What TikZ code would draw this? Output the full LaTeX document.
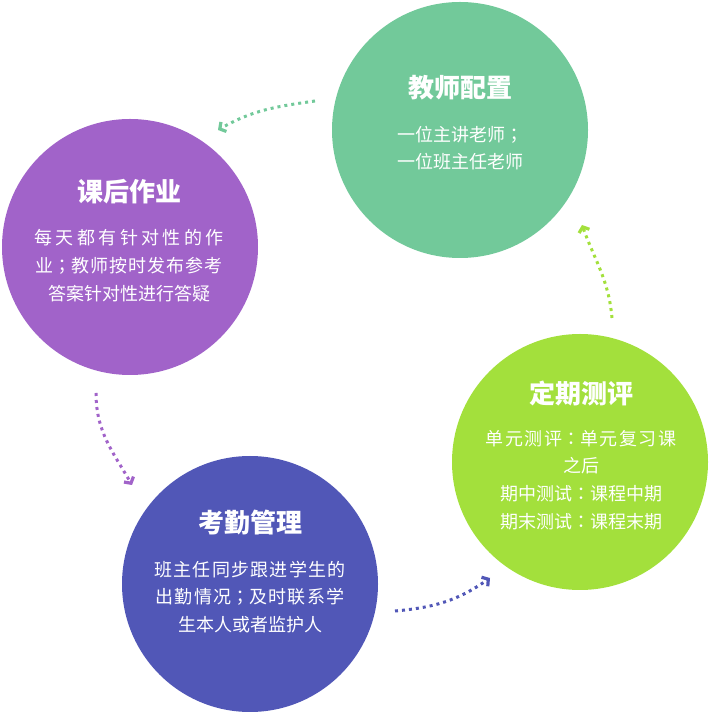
\documentclass[tikz,border=0pt]{standalone}
\usepackage{fontspec}
\setmainfont{Noto Sans CJK SC}
\newfontfamily\punct{Noto Sans CJK TC}
\usetikzlibrary{positioning}
\usetikzlibrary{arrows.meta}
\definecolor{peizhicol}{HTML}{72C99A}
\definecolor{zuoyecol}{HTML}{A163C9}
\definecolor{kaoqincol}{HTML}{5157B7}
\definecolor{cepingcol}{HTML}{A3E03C}
\newcommand{\cn}{{\punct ：}}
\newcommand{\sn}{{\punct ；}}
\newcommand{\spread}[2]{{\addfontfeature{LetterSpace=#1}#2}}
\tikzset{bubble/.style = {circle, inner sep = 0, minimum size = 256pt}}
\tikzset{head/.style = {text=white, inner sep = 0,
                        font=\fontsize{26}{30}\selectfont\bfseries}}
\tikzset{body/.style = {text=white, inner sep = 0, align=center,
                        font=\fontsize{18}{27.7}\selectfont}}
\tikzset{hop/.style = {line width=3pt, dash pattern=on 3pt off 4pt,
                       -{Straight Barb[length=4.5pt,width=11pt,line width=3.2pt]}}}

\begin{document}
\begin{tikzpicture}[x=1pt, y=1pt]
      \useasboundingbox (0,0) rectangle (710,715);

      \node[bubble, fill=peizhicol] (peizhi) at (460,585) {};
      \node[bubble, fill=zuoyecol] (zuoye) at (130,468) {};
      \node[bubble, fill=kaoqincol] (kaoqin) at (250,131) {};
      \node[bubble, fill=cepingcol] (ceping) at (580,253) {};

      \node[head] (peizhi-t) at (460,627) {教师配置};
      \node[body, below=25pt of peizhi-t] (peizhi-b) {一位主讲老师\sn\\一位班主任老师};
      \node[head] (zuoye-t) at (129,523) {课后作业};
      \node[body, below=25pt of zuoye-t] (zuoye-b)
           {\spread{19}{每天都有针对性的作}\\
            \spread{6}{业\sn 教师按时发布参考}\\
            答案针对性进行答疑};
      \node[head] (kaoqin-t) at (250,192) {考勤管理};
      \node[body, below=25pt of kaoqin-t] (kaoqin-b)
           {\spread{7}{班主任同步跟进学生的}\\
            \spread{7}{出勤情况\sn 及时联系学}\\
            生本人或者监护人};
      \node[head] (ceping-t) at (581,322) {定期测评};
      \node[body, below=24pt of ceping-t] (ceping-b)
           {\spread{8}{单元测评\cn 单元复习课}\\之后\\
            期中测试\cn 课程中期\\期末测试\cn 课程末期};

      \coordinate (peizhi-out) at (315,614);
      \coordinate (zuoye-in) at (218,585);
      \coordinate (zuoye-out) at (96,322);
      \coordinate (kaoqin-in) at (132,230);
      \coordinate (kaoqin-out) at (395,104);
      \coordinate (ceping-in) at (490,137);
      \coordinate (ceping-out) at (612,397);
      \coordinate (peizhi-in) at (582,490);

      \draw[hop, peizhicol] (peizhi-out) to[out=188, in=30] (zuoye-in);
      \draw[hop, zuoyecol] (zuoye-out) to[out=-90, in=120] (kaoqin-in);
      \draw[hop, kaoqincol] (kaoqin-out) to[out=5, in=215] (ceping-in);
      \draw[hop, cepingcol] (ceping-out) to[out=95, in=-70] (peizhi-in);
    \end{tikzpicture}
\end{document}
